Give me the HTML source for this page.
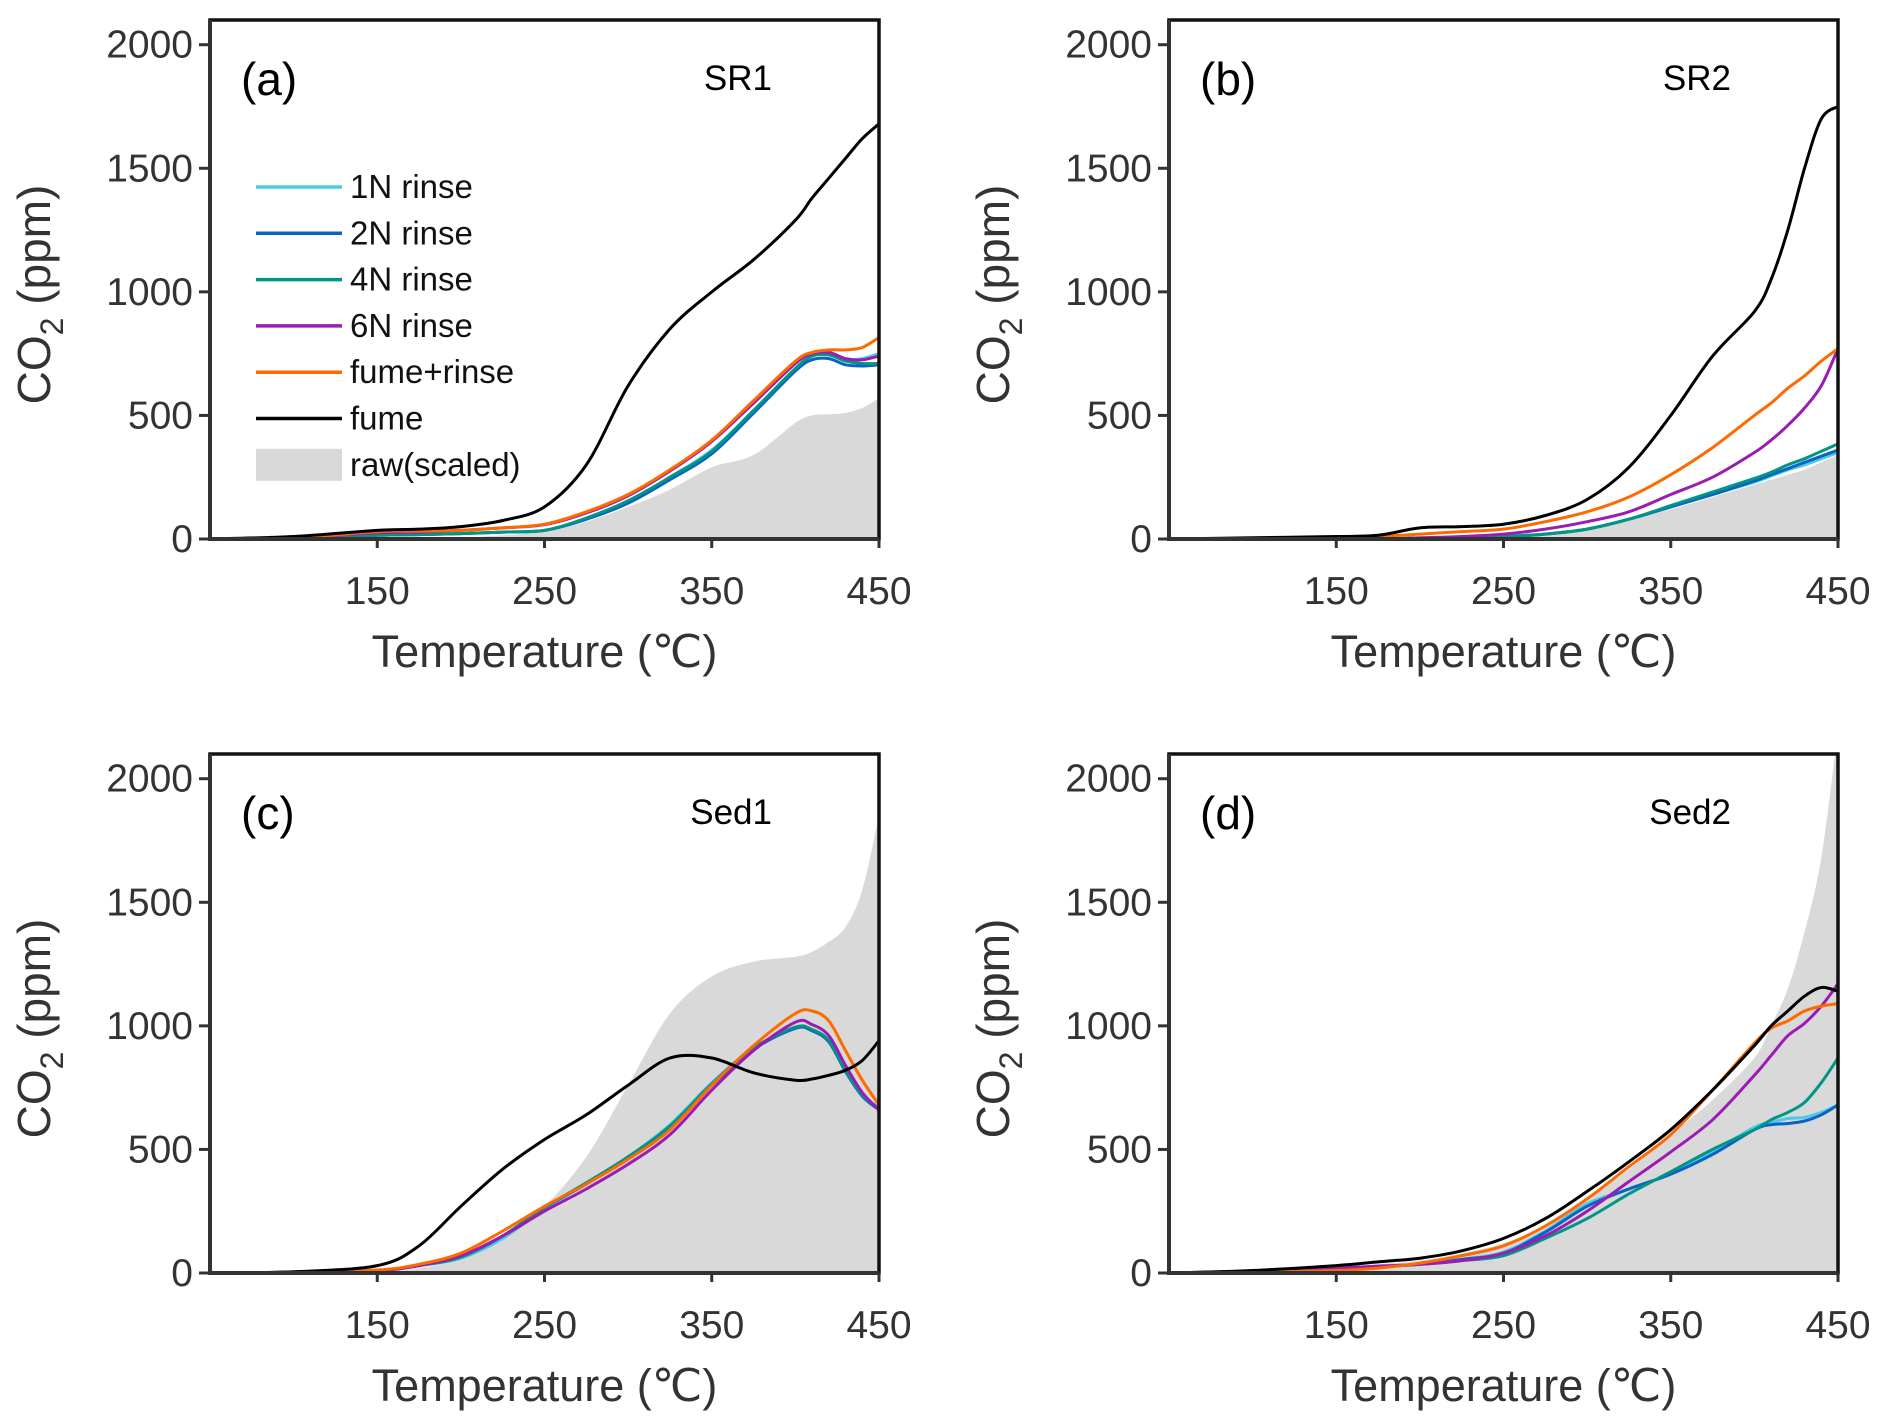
<!DOCTYPE html>
<html><head><meta charset="utf-8"><style>
html,body{margin:0;padding:0;background:#fff;}
svg{display:block;}
text{font-family:"Liberation Sans",Arial,sans-serif;fill:#333;}
</style></head><body>
<svg id="chart" width="1892" height="1428" viewBox="0 0 1892 1428" xmlns="http://www.w3.org/2000/svg"></svg>
<script>
const temps = [50,100,150,175,200,225,250,275,300,325,350,375,400,410,420,430,440,450];
const xTicks = [150,250,350,450];
const yTicks = [0,500,1000,1500,2000];
const seriesNames = ["raw","fume","fume+rinse","6N rinse","1N rinse","2N rinse","4N rinse"];
const seriesColors = {"1N rinse":"#4cc9ea","2N rinse":"#0a62c4","4N rinse":"#009683","6N rinse":"#9a1cb3","fume+rinse":"#ff6a00","fume":"#000000"};

const aRaw   = [0,0,0,0,5,15,30,70,130,200,290,340,470,500,505,510,530,570];
const aFume  = [0,10,35,40,50,75,130,300,620,850,1000,1130,1290,1380,1460,1540,1620,1680];
const aFR    = [0,5,30,32,35,45,60,110,180,280,400,560,720,755,765,765,775,815];
const a6N    = [0,5,25,28,35,45,58,105,175,275,395,550,710,750,755,730,725,740];
const a1N    = [0,3,15,18,22,28,35,80,150,250,360,520,690,740,745,725,730,750];
const a2N    = [0,3,15,18,22,28,35,80,145,240,345,510,680,725,730,705,700,705];
const a4N    = [0,3,15,18,22,28,35,85,155,250,355,520,690,740,745,720,710,710];

const bRaw   = [0,0,0,0,0,5,10,20,40,80,120,170,220,240,260,280,310,340];
const bFume  = [0,5,10,15,45,50,60,95,160,290,500,740,920,1050,1250,1500,1700,1750];
const bFR    = [0,0,5,10,20,30,40,70,110,170,260,370,500,550,610,660,720,770];
const b6N    = [0,0,0,0,5,10,20,40,70,110,180,250,350,400,460,530,620,770];
const b1N    = [0,0,0,0,0,5,10,20,40,80,130,180,230,255,280,300,325,350];
const b2N    = [0,0,0,0,0,5,10,20,40,80,130,180,235,260,285,310,335,360];
const b4N    = [0,0,0,0,0,5,10,20,40,80,135,190,245,270,300,325,355,385];

const cRaw   = [0,0,5,20,60,150,270,470,760,1050,1200,1260,1280,1300,1340,1400,1550,1850];
const cFume  = [0,5,30,110,270,420,540,640,760,870,870,810,780,785,800,820,860,940];
const cFR    = [0,3,12,35,80,170,270,360,460,580,760,920,1050,1060,1020,900,780,680];
const c6N    = [0,3,10,30,70,150,250,340,440,560,740,900,1015,1005,960,840,730,660];
const c1N    = [0,3,10,30,60,140,260,360,470,600,770,910,990,985,940,820,720,670];
const c2N    = [0,3,10,30,65,150,265,360,465,590,760,905,990,980,935,815,715,660];
const c4N    = [0,3,10,30,65,150,265,365,470,595,765,910,995,985,940,820,720,665];

const dRaw   = [0,5,20,35,50,80,120,190,300,420,560,700,870,1000,1150,1380,1680,2200];
const dFume  = [0,10,30,45,60,90,140,220,330,450,580,740,920,1000,1060,1120,1155,1140];
const dFR    = [0,3,10,20,40,70,110,190,300,430,560,740,930,990,1020,1060,1080,1090];
const d6N    = [0,8,20,28,35,50,80,150,250,370,490,620,800,880,960,1010,1080,1170];
const d1N    = [0,5,15,25,35,55,85,170,280,340,400,490,590,610,625,630,650,680];
const d2N    = [0,5,15,25,35,55,80,165,270,340,400,480,580,600,605,615,640,680];
const d4N    = [0,5,15,25,35,50,70,140,220,320,410,500,580,620,650,690,770,870];

const panels = [
 {id:"a",label:"(a)",title:"SR1",ox:0,oy:0,raw:aRaw,lines:{"1N rinse":a1N,"2N rinse":a2N,"4N rinse":a4N,"6N rinse":a6N,"fume+rinse":aFR,"fume":aFume},legend:true},
 {id:"b",label:"(b)",title:"SR2",ox:959,oy:0,raw:bRaw,lines:{"1N rinse":b1N,"2N rinse":b2N,"4N rinse":b4N,"6N rinse":b6N,"fume+rinse":bFR,"fume":bFume}},
 {id:"c",label:"(c)",title:"Sed1",ox:0,oy:734,raw:cRaw,lines:{"1N rinse":c1N,"2N rinse":c2N,"4N rinse":c4N,"6N rinse":c6N,"fume+rinse":cFR,"fume":cFume}},
 {id:"d",label:"(d)",title:"Sed2",ox:959,oy:734,raw:dRaw,lines:{"1N rinse":d1N,"2N rinse":d2N,"4N rinse":d4N,"6N rinse":d6N,"fume+rinse":dFR,"fume":dFume}}
];

const NS="http://www.w3.org/2000/svg";
const svg=document.getElementById("chart");
function mk(tag,attrs,parent){const e=document.createElementNS(NS,tag);for(const k in attrs)e.setAttribute(k,attrs[k]);(parent||svg).appendChild(e);return e;}
function smooth(pts){
  let d="M"+pts[0][0].toFixed(1)+","+pts[0][1].toFixed(1);
  for(let i=0;i<pts.length-1;i++){
    const p0=pts[Math.max(0,i-1)],p1=pts[i],p2=pts[i+1],p3=pts[Math.min(pts.length-1,i+2)];
    const c1=[p1[0]+(p2[0]-p0[0])/6,p1[1]+(p2[1]-p0[1])/6];
    const c2=[p2[0]-(p3[0]-p1[0])/6,p2[1]-(p3[1]-p1[1])/6];
    d+="C"+c1[0].toFixed(1)+","+c1[1].toFixed(1)+" "+c2[0].toFixed(1)+","+c2[1].toFixed(1)+" "+p2[0].toFixed(1)+","+p2[1].toFixed(1);
  }
  return d;
}

panels.forEach(p=>{
  const L=210+p.ox, R=879+p.ox, T=20+p.oy, B=539+p.oy;
  const xs=t=>L+(t-50)/400*(R-L);
  const ys=v=>B-v*(B-T)/2100;
  const g=mk("g",{});
  
  
  const clip=mk("clipPath",{id:"clip"+p.id},g);
  mk("rect",{x:L,y:T,width:R-L,height:B-T},clip);
  const cg=mk("g",{"clip-path":"url(#clip"+p.id+")"},g);
  const rawPts=temps.map((t,i)=>[xs(t),ys(p.raw[i])]);
  const area=mk("path",{d:smooth(rawPts)+"L"+xs(450)+","+B+"L"+xs(50)+","+B+"Z",fill:"#d9d9d9",stroke:"none"},cg);
  
  
  ["1N rinse","2N rinse","4N rinse","6N rinse","fume+rinse","fume"].forEach(n=>{
    const vals=p.lines[n];
    const pts=temps.map((t,i)=>[xs(t),ys(vals[i])]);
    const ln=mk("path",{d:smooth(pts),fill:"none",stroke:seriesColors[n],"stroke-width":3},cg);
    
    
  });
  mk("path",{d:`M${L},${B}V${T}H${R}V${B}Z`,fill:"none",stroke:"#111","stroke-width":3.5},g);
  mk("path",{d:`M${L},${T}V${B}H${R}`,fill:"none",stroke:"#333","stroke-width":4},g);
  yTicks.forEach(v=>{
    mk("line",{x1:L-11,x2:L,y1:ys(v),y2:ys(v),stroke:"#333","stroke-width":3},g);
    const t=mk("text",{x:L-17,y:ys(v)+13,"text-anchor":"end","font-size":39},g);
    t.textContent=v;
    
    
  });
  xTicks.forEach(v=>{
    mk("line",{x1:xs(v),x2:xs(v),y1:B,y2:B+9,stroke:"#333","stroke-width":3},g);
    const t=mk("text",{x:xs(v),y:B+65,"text-anchor":"middle","font-size":39},g);
    t.textContent=v;
    
    
  });
  const xt=mk("text",{x:(L+R)/2,y:B+128,"text-anchor":"middle","font-size":45},g);
  xt.textContent="Temperature (℃)";
  
  
  const yt=mk("text",{transform:`translate(${L-160},${(T+B)/2+15}) rotate(-90)`,"text-anchor":"middle","font-size":46},g);
  yt.innerHTML='CO<tspan dy="13" font-size="32">2</tspan><tspan dy="-13"> (ppm)</tspan>';
  
  
  const pl=mk("text",{x:L+31,y:T+75,"font-size":46,fill:"#000"},g);
  pl.textContent=p.label; pl.style.fill="#000";
  
  
  const st=mk("text",{x:R-107,y:T+70,"text-anchor":"end","font-size":35},g);
  st.textContent=p.title; st.style.fill="#000";
  
  
  if(p.legend){
    const lg=mk("g",{},g);
    
    
    const items=["1N rinse","2N rinse","4N rinse","6N rinse","fume+rinse","fume","raw(scaled)"];
    items.forEach((n,i)=>{
      const y=187+i*46.3;
      const e=mk("g",{},lg);
      
      
      if(n==="raw(scaled)") mk("rect",{x:256,y:y-16,width:86,height:32,fill:"#d9d9d9"},e);
      else mk("line",{x1:256,x2:342,y1:y,y2:y,stroke:seriesColors[n],"stroke-width":3.5},e);
      const t=mk("text",{x:350,y:y+11,"font-size":33},e);
      t.textContent=n; t.style.fill="#111";
    });
  }
});
</script>
</body></html>
